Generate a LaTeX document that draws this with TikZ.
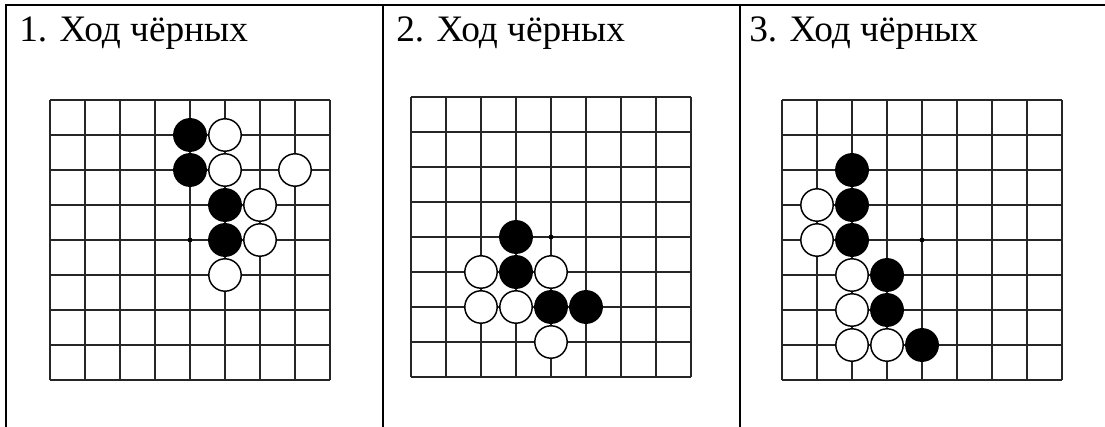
\documentclass[tikz,border=0pt]{standalone}
\usepackage{fontspec}
\setmainfont{Liberation Serif}

\begin{document}
\begin{tikzpicture}[
  x=0.75pt, y=-0.75pt,
  frame/.style={line width=1.5pt},
  title/.style={anchor=base west, inner sep=0pt, font=\fontsize{28}{32}\selectfont},
  board/.style={line width=0.8pt, black!85, step=26.25pt},
  blk/.style={circle, fill=black, draw=black, line width=1.1pt, minimum size=24.3pt, inner sep=0pt},
  wht/.style={blk, fill=white},
  star/.style={circle, fill, inner sep=1.3pt}
]
  \useasboundingbox (0,0) rectangle (1105,427);

  % table
  \draw[frame] (5.5,427) -- (5.5,5.5) -- (1105,5.5);
  \draw[frame] (383,5.5) -- (383,427);
  \draw[frame] (740,5.5) -- (740,427);
  \node[title] (t1) at (19,42) {1. Ход чёрных};
  \node[title] (t2) at (396,42) {2. Ход чёрных};
  \node[title] (t3) at (749,42) {3. Ход чёрных};

  % board 1
  \begin{scope}[shift={(50,100)}, x=26.25pt, y=-26.25pt]
    \draw[board] (0,0) grid (8.001,8.001);
    \node[star] (s1) at (4,4) {};
    \node[blk] (b1a) at (4,1) {}; \node[wht] (w1a) at (5,1) {};
    \node[blk] (b1b) at (4,2) {}; \node[wht] (w1b) at (5,2) {}; \node[wht] (w1c) at (7,2) {};
    \node[blk] (b1c) at (5,3) {}; \node[wht] (w1d) at (6,3) {};
    \node[blk] (b1d) at (5,4) {}; \node[wht] (w1e) at (6,4) {};
    \node[wht] (w1f) at (5,5) {};
  \end{scope}

  % board 2
  \begin{scope}[shift={(411,97)}, x=26.25pt, y=-26.25pt]
    \draw[board] (0,0) grid (8.001,8.001);
    \node[star] (s2) at (4,4) {};
    \node[blk] (b2a) at (3,4) {};
    \node[wht] (w2a) at (2,5) {}; \node[blk] (b2b) at (3,5) {}; \node[wht] (w2b) at (4,5) {};
    \node[wht] (w2c) at (2,6) {}; \node[wht] (w2d) at (3,6) {};
    \node[blk] (b2c) at (4,6) {}; \node[blk] (b2d) at (5,6) {};
    \node[wht] (w2e) at (4,7) {};
  \end{scope}

  % board 3
  \begin{scope}[shift={(782,100)}, x=26.25pt, y=-26.25pt]
    \draw[board] (0,0) grid (8.001,8.001);
    \node[star] (s3) at (4,4) {};
    \node[blk] (b3a) at (2,2) {};
    \node[wht] (w3a) at (1,3) {}; \node[blk] (b3b) at (2,3) {};
    \node[wht] (w3b) at (1,4) {}; \node[blk] (b3c) at (2,4) {};
    \node[wht] (w3c) at (2,5) {}; \node[blk] (b3d) at (3,5) {};
    \node[wht] (w3d) at (2,6) {}; \node[blk] (b3e) at (3,6) {};
    \node[wht] (w3e) at (2,7) {}; \node[wht] (w3f) at (3,7) {}; \node[blk] (b3f) at (4,7) {};
  \end{scope}
\end{tikzpicture}
\end{document}
